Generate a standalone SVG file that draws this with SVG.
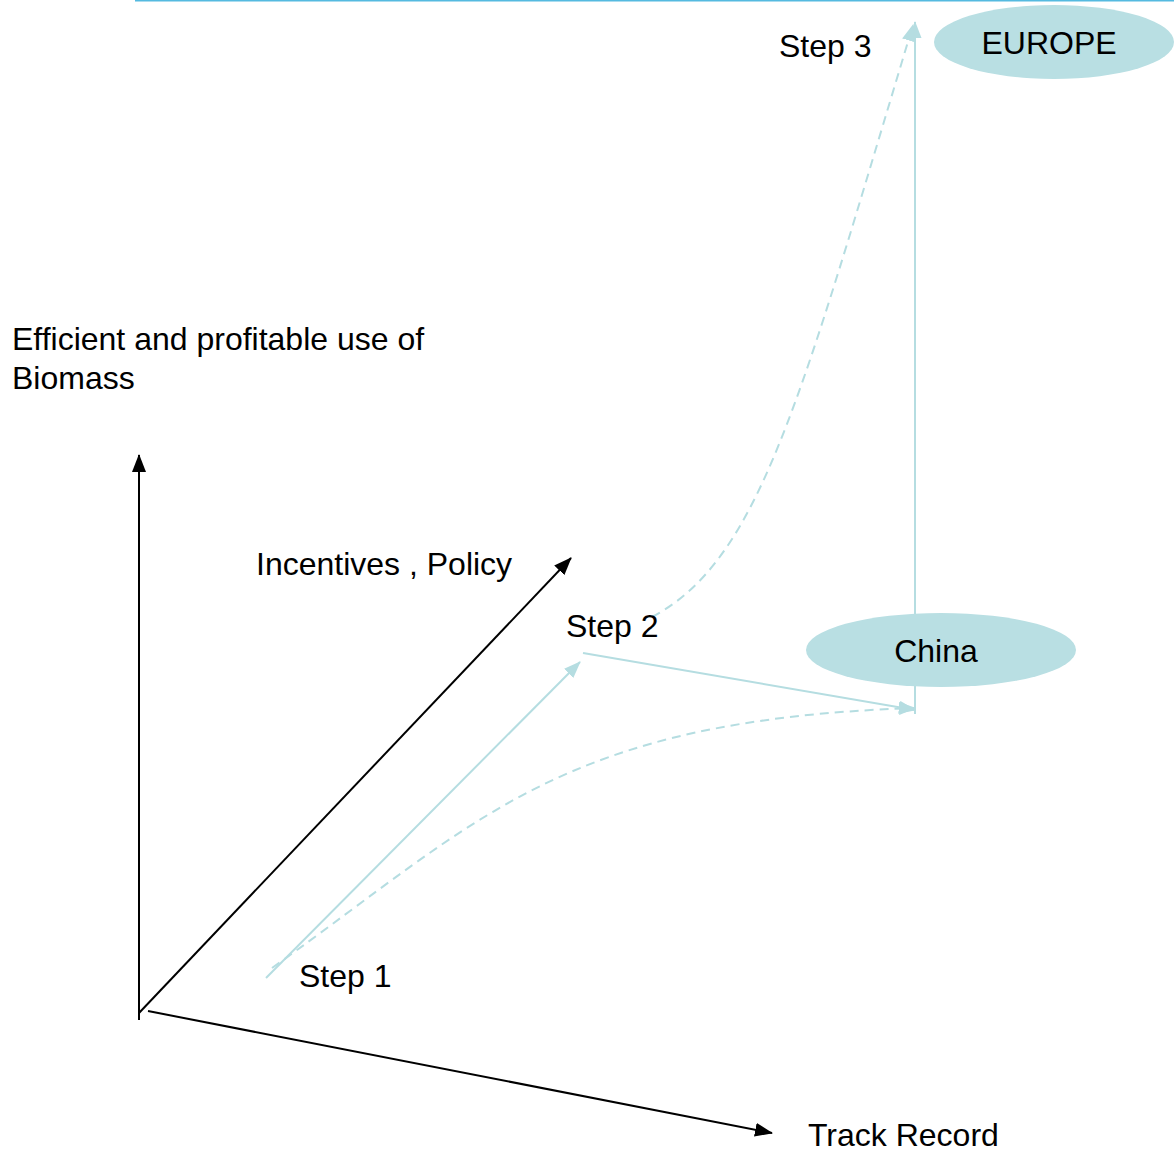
<svg xmlns="http://www.w3.org/2000/svg" width="1174" height="1152" viewBox="0 0 1174 1152">
<defs>
<style>
text{font-family:"Liberation Sans",Arial,sans-serif;font-size:32px;fill:#000}
.ax{stroke:#000;stroke-width:2;fill:none}
.tl{stroke:#b5dde1;stroke-width:2;fill:none}
.ds{stroke:#b5dde1;stroke-width:2;fill:none;stroke-dasharray:9,6}
.node{fill:#b9dfe3}
</style>
<marker id="at" markerWidth="17" markerHeight="13" refX="16" refY="6.5" orient="auto" markerUnits="userSpaceOnUse" viewBox="0 0 17 13"><path d="M0,0L17,6.5L0,13z" fill="#b5dde1"/></marker>
<marker id="abk" markerWidth="18" markerHeight="14" refX="17" refY="7" orient="auto" markerUnits="userSpaceOnUse" viewBox="0 0 18 14"><path d="M0,0L18,7L0,14z" fill="#000"/></marker>
</defs>
<line x1="135" y1="0.5" x2="1174" y2="0.5" stroke="#55bae0" stroke-width="2"/>
<g id="connectors">
<line class="ax" x1="139" y1="1020" x2="139" y2="455" marker-end="url(#abk)"/>
<line class="ax" x1="139" y1="1013" x2="571" y2="558" marker-end="url(#abk)"/>
<line class="ax" x1="148" y1="1011" x2="772" y2="1133" marker-end="url(#abk)"/>
<line class="tl" x1="266" y1="978" x2="580" y2="662" marker-end="url(#at)"/>
<line class="tl" x1="583" y1="653" x2="915" y2="710" marker-end="url(#at)"/>
<path class="ds" d="M272,968 C480,820 560,720 915,708" marker-end="url(#at)"/>
<line class="tl" x1="915" y1="714" x2="915" y2="22" marker-end="url(#at)"/>
<path class="ds" d="M652,617 C760,560 800,400 913,25" marker-end="url(#at)"/>
</g>
<g id="china"><ellipse class="node" cx="941" cy="650" rx="135" ry="37"/><text x="936" y="662" text-anchor="middle">China</text></g>
<g id="europe"><ellipse class="node" cx="1054" cy="42" rx="120" ry="37"/><text x="1049" y="54" text-anchor="middle">EUROPE</text></g>
<g id="labels">
<text x="12" y="350">Efficient and profitable use of</text>
<text x="12" y="389">Biomass</text>
<text x="256" y="575">Incentives , Policy</text>
<text x="566" y="637">Step 2</text>
<text x="299" y="987">Step 1</text>
<text x="779" y="57">Step 3</text>
<text x="808" y="1146">Track Record</text>
</g>
</svg>
